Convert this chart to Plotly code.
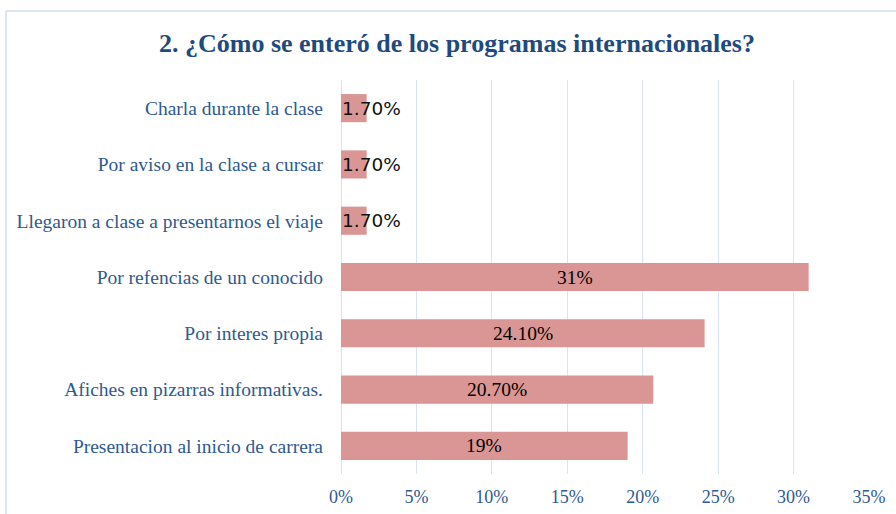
import plotly.graph_objects as go

categories = [
    "Charla durante la clase",
    "Por aviso en la clase a cursar",
    "Llegaron a clase a presentarnos el viaje",
    "Por refencias de un conocido",
    "Por interes propia",
    "Afiches en pizarras informativas.",
    "Presentacion al inicio de carrera",
]
values = [1.7, 1.7, 1.7, 31, 24.1, 20.7, 19]
value_labels = ["1.70%", "1.70%", "1.70%", "31%", "24.10%", "20.70%", "19%"]
tick_vals = [0, 5, 10, 15, 20, 25, 30, 35]
tick_text = ["0%", "5%", "10%", "15%", "20%", "25%", "30%", "35%"]

title_text = "2. ¿Cómo se enteró de los programas internacionales?"

BLUE = "#2F5A8F"
SERIF = "Liberation Serif, Times New Roman, serif"

fig = go.Figure()
fig.add_trace(go.Bar(
    x=values, y=categories, orientation="h",
    marker=dict(color="#D99694", line=dict(width=0)),
    hoverinfo="x+y",
))

annotations = []
for c, v, t in zip(categories, values, value_labels):
    if v >= 5:
        annotations.append(dict(x=v / 2, y=c, text=t, showarrow=False, xanchor="center",
                                font=dict(family=SERIF, size=19.5, color="#000000")))
    else:
        annotations.append(dict(x=0, y=c, text=t, showarrow=False, xanchor="left", xshift=-1,
                                font=dict(family="DejaVu Sans, Arial, sans-serif", size=18.5, color="#111111")))

fig.update_layout(
    width=896, height=514,
    margin=dict(l=341, r=27, t=80, b=40, autoexpand=False),
    paper_bgcolor="white", plot_bgcolor="white",
    bargap=0.5,
    showlegend=False,
    title=dict(text="<b>" + title_text + "</b>", x=457 / 896, xref="container", xanchor="center",
               y=1 - 43 / 514, yref="container", yanchor="middle",
               font=dict(family=SERIF, size=26, color="#1F4A7E")),
    xaxis=dict(range=[0, 35], tickvals=tick_vals, ticktext=tick_text, automargin=False,
               showgrid=True, gridcolor="#D9E4F2", gridwidth=1,
               zeroline=True, zerolinecolor="#D9E4F2", zerolinewidth=1,
               showline=False, ticks="", ticklabelstandoff=10,
               tickfont=dict(family=SERIF, size=18, color=BLUE)),
    yaxis=dict(categoryorder="array", categoryarray=categories, autorange="reversed",
               showgrid=False, zeroline=False, showline=False, ticks="", automargin=False,
               ticklabelstandoff=17,
               tickfont=dict(family=SERIF, size=19.5, color=BLUE)),
    annotations=annotations,
    shapes=[
        dict(type="line", xref="paper", yref="paper", x0=(6 - 341) / 528, x1=(6 - 341) / 528,
             y0=1 + (80 - 11) / 394, y1=-0.2, line=dict(color="#DCE6F2", width=2)),
        dict(type="line", xref="paper", yref="paper", x0=(6 - 341) / 528, x1=1.2,
             y0=1 + (80 - 11) / 394, y1=1 + (80 - 11) / 394, line=dict(color="#DCE6F2", width=2)),
    ],
)

fig.write_html("out.html", config={"displayModeBar": False},
               post_script="document.body.style.margin='0';")
